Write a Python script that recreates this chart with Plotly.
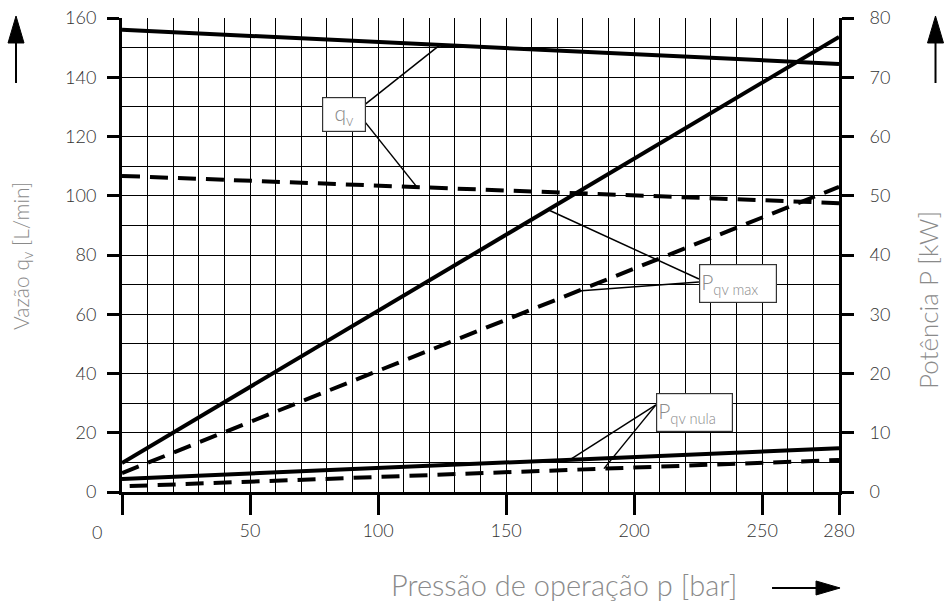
import numpy as np
import plotly.graph_objects as go

# pressao [bar]
pressao = [0, 280]
pressao_nula_trac = [3, 280]

# vazao qv [L/min]
qv_cheio = [156, 144.5]
qv_trac = [106.7, 97.5]

# potencia P [kW]
pmax_cheio = [4.9, 76.8]
pmax_trac = [3.2, 51.5]
pnula_cheio = [2.2, 7.4]
pnula_trac = [1.0, 5.4]

x_ticks = [0, 50, 100, 150, 200, 250, 280]
x_ticktext = ["", "50", "100", "150", "200", "250", "280"]
y_ticks = [0, 20, 40, 60, 80, 100, 120, 140, 160]
y2_ticks = [0, 10, 20, 30, 40, 50, 60, 70, 80]

FONT = "Lato"
GRAY = "#8a8a8a"
TXT = dict(family=FONT, size=18, color="#333", weight=300)

fig = go.Figure()

fig.add_trace(go.Scatter(x=pressao, y=qv_cheio, mode="lines", line=dict(color="black", width=4)))
fig.add_trace(go.Scatter(x=pressao, y=qv_trac, mode="lines", line=dict(color="black", width=4, dash="18px,10px")))
fig.add_trace(go.Scatter(x=pressao, y=pmax_cheio, mode="lines", yaxis="y2", line=dict(color="black", width=4)))
fig.add_trace(go.Scatter(x=pressao, y=pmax_trac, mode="lines", yaxis="y2", line=dict(color="black", width=4, dash="18px,10px")))
fig.add_trace(go.Scatter(x=pressao, y=pnula_cheio, mode="lines", yaxis="y2", line=dict(color="black", width=4)))
fig.add_trace(go.Scatter(x=pressao_nula_trac, y=pnula_trac, mode="lines", yaxis="y2", line=dict(color="black", width=4, dash="18px,10px")))


def em_q(serie, p, kw=False, xs=pressao):
    # valor da curva na pressao p, em unidades do eixo esquerdo
    v = float(np.interp(p, xs, serie))
    return v * 2 if kw else v


# linhas de chamada: (ponto na caixa) -> (ponto na curva)
chamadas = [
    ((93.7, 130.0), (124.2, em_q(qv_cheio, 124.2))),
    ((93.7, 126.2), (115.2, em_q(qv_trac, 115.2))),
    ((225.3, 71.9), (166.4, em_q(pmax_cheio, 166.4, True))),
    ((225.3, 70.9), (178.1, em_q(pmax_trac, 178.1, True))),
    ((208.5, 29.4), (175.0, em_q(pnula_cheio, 175.0, True))),
    ((208.5, 29.4), (188.2, em_q(pnula_trac, 188.2, True, pressao_nula_trac))),
]
shapes = []
for (a, b) in chamadas:
    shapes.append(dict(type="line", xref="x", yref="y", x0=a[0], y0=a[1], x1=b[0], y1=b[1],
                       line=dict(color="black", width=1.5)))

# setas
def seta(xa, ya, caminho_linha, caminho_ponta):
    base = dict(xref="paper", yref="paper", xsizemode="pixel", ysizemode="pixel",
                xanchor=xa, yanchor=ya)
    shapes.append(dict(type="path", path=caminho_linha, line=dict(color="black", width=2), **base))
    shapes.append(dict(type="path", path=caminho_ponta, fillcolor="black", line=dict(color="black", width=1), **base))

seta(-0.1478, 0.8629, "M0,0 L0,42", "M-8,40 L8,40 L0,67 Z")
seta(1.1346, 0.8629, "M0,0 L0,42", "M-8,40 L8,40 L0,67 Z")
seta(0.9066, -0.2025, "M0,0 L46,0", "M44,-7 L44,7 L68,0 Z")

caixa = dict(xref="x", yref="y", showarrow=False, bgcolor="white", bordercolor="#333",
             borderwidth=1.2, font=dict(family=FONT, size=21, color=GRAY, weight=300))
titulo = dict(xref="paper", yref="paper", showarrow=False, xanchor="center", yanchor="middle")
annotations = [
    dict(x=86.7, y=127.3, text="q<sub>v</sub>", width=40, height=31, **caixa),
    dict(x=240.6, y=70.4, text="P<sub>qv max</sub>", width=74, height=35, align="left", **caixa),
    dict(x=223.6, y=26.8, text="P<sub>qv nula</sub>", width=73, height=35, align="left", **caixa),
    dict(x=0, y=0, xref="x", yref="paper", text="0", showarrow=False, xanchor="center", yanchor="middle",
         xshift=-25, yshift=-40, font=TXT),
    dict(x=-0.1395, y=0.498, text="Vazão q<sub>v</sub> [L/min]", textangle=-90,
         font=dict(family=FONT, size=21, color=GRAY, weight=300), **titulo),
    dict(x=1.124, y=0.405, text="Potência P [kW]", textangle=-90,
         font=dict(family=FONT, size=26, color=GRAY, weight=300), **titulo),
    dict(x=0.6165, y=-0.196, text="Pressão de operação p [bar]",
         font=dict(family=FONT, size=29, color=GRAY, weight=300), **titulo),
]

eixo = dict(showline=True, linecolor="black", linewidth=3, ticks="outside", tickcolor="black",
            tickwidth=3, zeroline=False, automargin=False, ticklabeloverflow="allow", tickfont=TXT)

fig.update_layout(
    template="none",
    width=944, height=605,
    margin=dict(l=122, r=105, t=18, b=113),
    paper_bgcolor="white", plot_bgcolor="white",
    showlegend=False,
    xaxis=dict(range=[0, 280], tickvals=x_ticks, ticktext=x_ticktext, ticklen=20,
               showgrid=True, gridcolor="black", gridwidth=1.3,
               minor=dict(dtick=10, tick0=0, showgrid=True, gridcolor="black", gridwidth=1.3, ticks=""),
               ticklabelstandoff=0, **eixo),
    yaxis=dict(range=[0, 160], tickvals=y_ticks, ticklen=12,
               showgrid=True, gridcolor="black", gridwidth=1.3,
               minor=dict(dtick=10, tick0=0, showgrid=True, gridcolor="black", gridwidth=1.3, ticks=""),
               ticklabelstandoff=7, **eixo),
    yaxis2=dict(range=[0, 80], tickvals=y2_ticks, ticklen=12, overlaying="y", side="right",
                showgrid=False, ticklabelstandoff=12, **eixo),
    shapes=shapes,
    annotations=annotations,
)

# tira a margem de 8 px do corpo da pagina
fig.write_html("out.html", config={"displayModeBar": False},
               post_script="document.body.style.margin='0';")
